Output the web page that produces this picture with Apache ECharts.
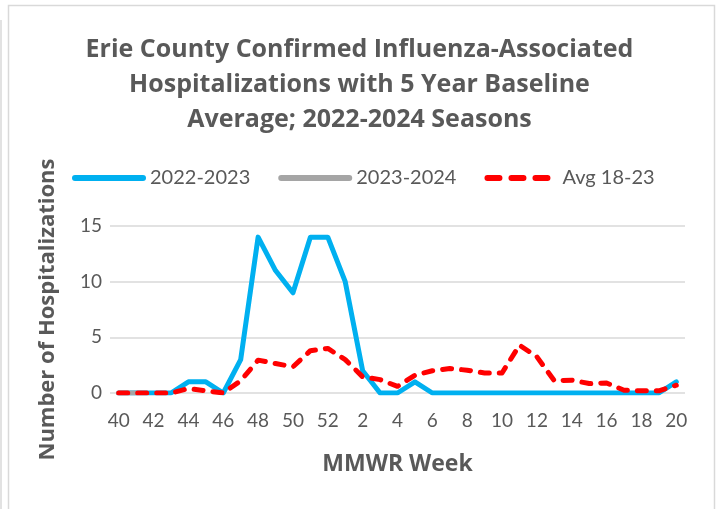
<!DOCTYPE html>
<html><head><meta charset="utf-8">
<script src="https://cdn.jsdelivr.net/npm/echarts@6/dist/echarts.min.js"></script>
<style>html,body{margin:0;padding:0;background:#fff}#c{width:719px;height:509px}</style>
</head><body><div id="c"></div>
<script>
const weeks = ['40','41','42','43','44','45','46','47','48','49','50','51','52','1','2','3','4','5','6','7','8','9','10','11','12','13','14','15','16','17','18','19','20'];
const s2022 = [0,0,0,0,1,1,0,3,14,11,9,14,14,10,2,0,0,1,0,0,0,0,0,0,0,0,0,0,0,0,0,0,1];
const s2023 = [0,0,null,null,null,null,null,null,null,null,null,null,null,null,null,null,null,null,null,null,null,null,null,null,null,null,null,null,null,null,null,null,null];
const avg = [0,0,0,0,0.4,0.2,0,1.1,2.95,2.65,2.35,3.8,4.0,3.0,1.45,1.2,0.6,1.6,2.0,2.2,2.05,1.8,1.8,4.3,3.25,1.1,1.15,0.85,0.9,0.25,0.2,0.2,0.7];
const yTicks = [0,5,10,15];
const FONT = 'Lato';
const BFONT = 'Open Sans';
const chart = echarts.init(document.getElementById('c'));
chart.setOption({
  animation:false,
  textStyle:{fontFamily:FONT},
  graphic:[
    {type:'rect',shape:{x:8.5,y:5.5,width:706,height:520},style:{fill:'none',stroke:'#d9d9d9',lineWidth:1.5},silent:true},
    {type:'line',shape:{x1:1,y1:20,x2:1,y2:509},style:{stroke:'#d9d9d9',lineWidth:1.5},silent:true}
  ],
  title:{
    text:'Erie County Confirmed Influenza-Associated\nHospitalizations with 5 Year Baseline\nAverage; 2022-2024 Seasons',
    left:'center', top:27,
    textStyle:{fontFamily:BFONT,fontWeight:'bold',fontSize:25,color:'#595959',lineHeight:35}
  },
  legend:{
    left:67, top:163, itemWidth:68, itemHeight:14, itemGap:28,
    itemStyle:{opacity:0},
    lineStyle:{width:6,cap:'round'},
    textStyle:{fontFamily:FONT,fontSize:20,color:'#595959',padding:[0,0,0,2]},
    data:['2022-2023','2023-2024',{name:'Avg 18-23',lineStyle:{type:[12,12]}}]
  },
  grid:{left:110,right:34,top:226,bottom:116},
  xAxis:{
    type:'category', data:weeks, boundaryGap:true,
    name:'MMWR Week', nameLocation:'middle', nameGap:60,
    nameTextStyle:{fontFamily:BFONT,fontWeight:'bold',fontSize:23,color:'#595959'},
    axisLine:{show:false}, axisTick:{show:false},
    axisLabel:{interval:1,fontSize:19,color:'#595959',margin:18,fontFamily:FONT}
  },
  yAxis:{
    type:'value', min:yTicks[0], max:yTicks[yTicks.length-1], interval:5,
    name:'Number of Hospitalizations', nameLocation:'middle', nameGap:51,
    nameTextStyle:{fontFamily:BFONT,fontWeight:'bold',fontSize:22,color:'#595959'},
    axisLine:{show:false}, axisTick:{show:false},
    axisLabel:{fontSize:19,color:'#595959',margin:8,fontFamily:FONT},
    splitLine:{lineStyle:{color:'#d9d9d9',width:1.5}}
  },
  series:[
    {name:'2022-2023',type:'line',data:s2022,symbol:'none',lineStyle:{color:'#00b0f0',width:5,cap:'round',join:'round'},itemStyle:{color:'#00b0f0'},z:2},
    {name:'2023-2024',type:'line',data:s2023,symbol:'none',lineStyle:{color:'#a5a5a5',width:5,cap:'round'},itemStyle:{color:'#a5a5a5'},z:3},
    {name:'Avg 18-23',type:'line',data:avg,symbol:'none',lineStyle:{color:'#ff0000',width:5,type:[9,10],cap:'round',join:'round'},itemStyle:{color:'#ff0000'},z:4}
  ]
});
</script></body></html>
